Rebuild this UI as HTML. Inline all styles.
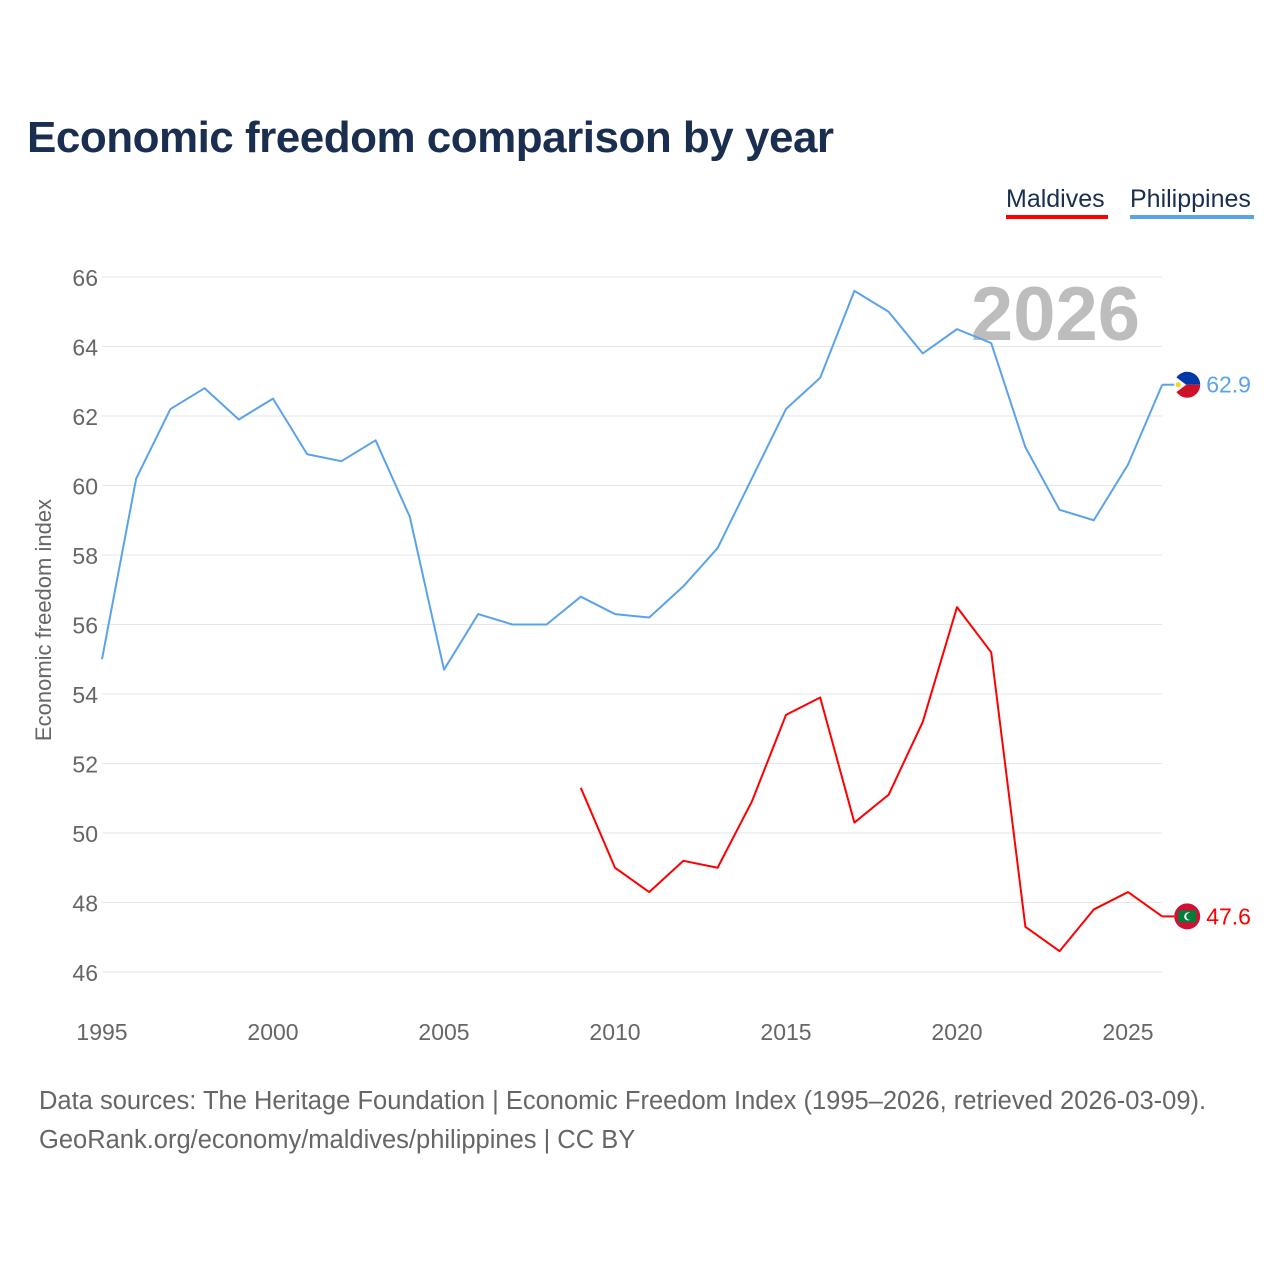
<!DOCTYPE html>
<html><head><meta charset="utf-8">
<style>
html,body{margin:0;padding:0;background:#fff;}
body{width:1280px;height:1280px;position:relative;font-family:"Liberation Sans",sans-serif;overflow:hidden;}
#title{position:absolute;left:27px;top:113px;font-size:44px;font-weight:bold;color:#1a2e4f;letter-spacing:-0.5px;}
.leg{position:absolute;top:185px;font-size:25px;color:#1a2e4f;padding-bottom:1px;padding-right:3px;}
#src{position:absolute;left:39px;top:1082px;font-size:25.5px;color:#666;line-height:39px;}
</style></head><body>
<div id="title">Economic freedom comparison by year</div>
<div class="leg" style="left:1006px;border-bottom:4px solid #f00;">Maldives</div>
<div class="leg" style="left:1130px;border-bottom:4px solid #5ba3e8;">Philippines</div>
<svg id="chart" width="1280" height="1280" style="position:absolute;left:0;top:0"></svg>
<div id="src">Data sources: The Heritage Foundation | Economic Freedom Index (1995–2026, retrieved 2026-03-09).<br>GeoRank.org/economy/maldives/philippines | CC BY</div>
<script>
const phYears = [1995,1996,1997,1998,1999,2000,2001,2002,2003,2004,2005,2006,2007,2008,2009,2010,2011,2012,2013,2014,2015,2016,2017,2018,2019,2020,2021,2022,2023,2024,2025,2026];
const phValues = [55.0,60.2,62.2,62.8,61.9,62.5,60.9,60.7,61.3,59.1,54.7,56.3,56.0,56.0,56.8,56.3,56.2,57.1,58.2,60.2,62.2,63.1,65.6,65.0,63.8,64.5,64.1,61.1,59.3,59.0,60.6,62.9];
const mvYears = [2009,2010,2011,2012,2013,2014,2015,2016,2017,2018,2019,2020,2021,2022,2023,2024,2025,2026];
const mvValues = [51.3,49.0,48.3,49.2,49.0,50.9,53.4,53.9,50.3,51.1,53.2,56.5,55.2,47.3,46.6,47.8,48.3,47.6];
const yTicks = [46,48,50,52,54,56,58,60,62,64,66];
const xTicks = [1995,2000,2005,2010,2015,2020,2025];

const svg = document.getElementById('chart');
const NS = 'http://www.w3.org/2000/svg';
const x = yr => 102 + (yr - 1995) * (1128 - 102) / 30;
const y = v => 277 + (66 - v) * (972 - 277) / 20;
function mk(tag, attrs, parent) {
  const e = document.createElementNS(NS, tag);
  for (const k in attrs) e.setAttribute(k, attrs[k]);
  (parent || svg).appendChild(e);
  return e;
}
yTicks.forEach(t => {
  const g = mk('line', {x1: 102, x2: 1162, y1: y(t), y2: y(t), stroke: '#e6e6e6', 'stroke-width': 1});
  
  
  const l = mk('text', {x: 98, y: y(t) + 9, 'text-anchor': 'end', 'font-size': 23, fill: '#666'});
  l.textContent = t;
  
  
});
xTicks.forEach(t => {
  const l = mk('text', {x: x(t), y: 1040, 'text-anchor': 'middle', 'font-size': 23, fill: '#666'});
  l.textContent = t;
  
  
});
const yt = mk('text', {x: 0, y: 0, transform: 'translate(51,620) rotate(-90)', 'text-anchor': 'middle', 'font-size': 22, fill: '#666'});
yt.textContent = 'Economic freedom index';



const yr = mk('text', {x: 1140, y: 340, 'text-anchor': 'end', 'font-size': 76, 'font-weight': 'bold', fill: '#bdbdbd'});
yr.textContent = '2026';



function series(years, vals, color, name) {
  const p = mk('polyline', {points: years.map((d, i) => x(d) + ',' + y(vals[i])).join(' '), fill: 'none', stroke: color, 'stroke-width': 2, 'stroke-linejoin': 'round'});
  
  
  const lx = x(years[years.length - 1]), ly = y(vals[vals.length - 1]);
  mk('line', {x1: lx, x2: lx + 12, y1: ly, y2: ly, stroke: color, 'stroke-width': 2});
  const t = mk('text', {x: lx + 44, y: ly + 8, 'font-size': 23, fill: color});
  t.textContent = vals[vals.length - 1].toFixed(1);
  
  
  return [lx + 25, ly];
}
const [px, py] = series(phYears, phValues, '#5ba3e8', 'philippines');
const [mx, my] = series(mvYears, mvValues, '#ff0000', 'maldives');

// Philippines flag
const pf = mk('g', {});


mk('path', {d: `M${px-13},${py} A13,13 0 0 1 ${px+13},${py} Z`, fill: '#0038a8'}, pf);
mk('path', {d: `M${px-13},${py} A13,13 0 0 0 ${px+13},${py} Z`, fill: '#ce1126'}, pf);
mk('path', {d: `M${px-13},${py-9} L${px-1},${py} L${px-13},${py+9} Z`, fill: '#fff'}, pf);
mk('circle', {cx: px-9, cy: py, r: 2.5, fill: '#fcd116'}, pf);
// Maldives flag
const mf = mk('g', {});


mk('circle', {cx: mx, cy: my, r: 13, fill: '#d21034'}, mf);
mk('rect', {x: mx-9, y: my-6, width: 18, height: 12, fill: '#007e3a'}, mf);
mk('circle', {cx: mx+1, cy: my, r: 4, fill: '#fff'}, mf);
mk('circle', {cx: mx+2.5, cy: my, r: 3.5, fill: '#007e3a'}, mf);
</script>
</body></html>
